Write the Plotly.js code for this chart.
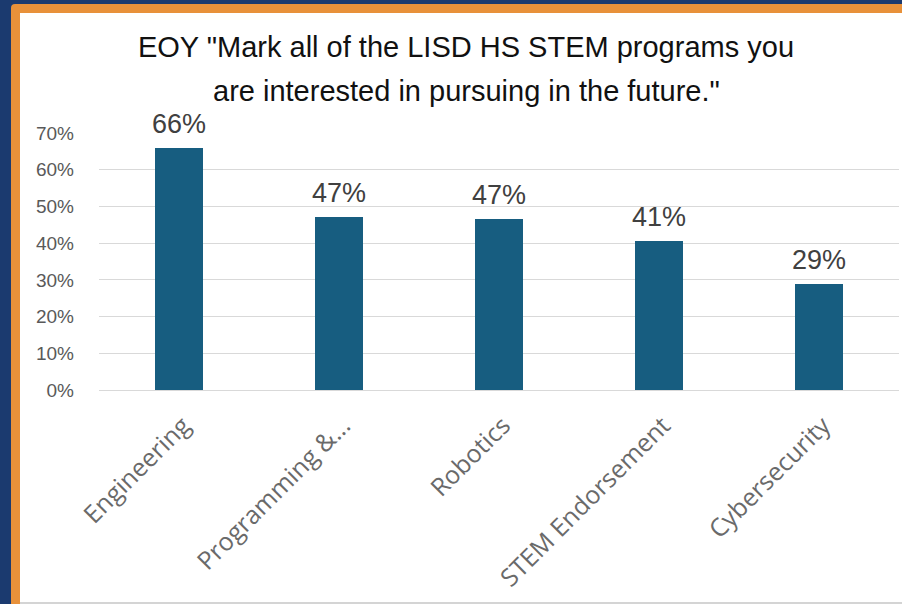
<!DOCTYPE html>
<html>
<head>
<meta charset="utf-8">
<script src="https://cdn.plot.ly/plotly-3.0.1.min.js"></script>
<style>
  html, body { margin: 0; padding: 0; width: 902px; height: 604px; overflow: hidden; background: #1b3a6f; }
  #frame { position: absolute; left: 11px; top: 4px; width: 920px; height: 640px; background: #e8913a; border-top-left-radius: 4px; }
  #inner { position: absolute; left: 20px; top: 13px; width: 900px; height: 589px; background: #ffffff; }
  #bottomline { position: absolute; left: 20px; top: 602px; width: 900px; height: 2px; background: #d4d4d4; }
  #chart { position: absolute; left: 0; top: 0; width: 902px; height: 604px; }
</style>
</head>
<body>
<div id="frame"></div>
<div id="inner"></div>
<div id="bottomline"></div>
<div id="chart"></div>
<script>
const titleLine1 = 'EOY "Mark all of the LISD HS STEM programs you';
const titleLine2 = 'are interested in pursuing in the future."';
const categories = ['Engineering', 'Programming &...', 'Robotics', 'STEM Endorsement', 'Cybersecurity'];
const values = [0.660, 0.471, 0.466, 0.407, 0.288];
const yTickVals = [0, 0.1, 0.2, 0.3, 0.4, 0.5, 0.6, 0.7];
const yTickText = ['0%', '10%', '20%', '30%', '40%', '50%', '60%', '70%'];

const barTrace = {
  type: 'bar',
  x: categories,
  y: values,
  marker: { color: '#175d80' },
  width: 0.306,
  hoverinfo: 'skip',
  cliponaxis: false
};

const valueLabels = categories.map((c, i) => ({
  x: c,
  y: values[i],
  xref: 'x',
  yref: 'y',
  text: Math.round(values[i] * 100) + '%',
  showarrow: false,
  xanchor: 'center',
  yanchor: 'bottom',
  yshift: 7,
  font: { family: 'Liberation Sans, Arial, sans-serif', size: 27, color: '#404040' }
}));

const layout = {
  width: 902,
  height: 604,
  margin: { l: 99, r: 3, t: 133, b: 214, pad: 0 },
  paper_bgcolor: 'rgba(0,0,0,0)',
  plot_bgcolor: 'rgba(0,0,0,0)',
  showlegend: false,
  bargap: 0,
  title: {
    text: titleLine1,
    x: 466 / 902,
    xanchor: 'center',
    xref: 'container',
    y: 1 - 47 / 604,
    yanchor: 'middle',
    yref: 'container',
    font: { family: 'Liberation Sans, Arial, sans-serif', size: 29, color: '#111111' }
  },
  xaxis: {
    type: 'category',
    tickangle: -45,
    ticks: '',
    showline: false,
    showgrid: false,
    zeroline: false,
    ticklabelstandoff: 15,
    ticklabelshift: 4,
    tickfont: { family: 'Open Sans, sans-serif', size: 25, color: '#6a6a6a' },
    fixedrange: true
  },
  yaxis: {
    range: [0, 0.7],
    tickvals: yTickVals,
    ticktext: yTickText,
    ticks: '',
    showline: false,
    showgrid: true,
    gridcolor: '#d9d9d9',
    gridwidth: 1,
    zeroline: true,
    zerolinecolor: '#d9d9d9',
    zerolinewidth: 1,
    ticklabelstandoff: 24,
    tickfont: { family: 'Liberation Sans, Arial, sans-serif', size: 19, color: '#595959' },
    fixedrange: true
  },
  annotations: valueLabels.concat([{
    text: titleLine2,
    xref: 'paper',
    yref: 'paper',
    x: (466 - 99) / 800,
    y: (390 - 91) / 257,
    xanchor: 'center',
    yanchor: 'middle',
    showarrow: false,
    font: { family: 'Liberation Sans, Arial, sans-serif', size: 29, color: '#111111' }
  }])
};

Plotly.newPlot('chart', [barTrace], layout, { displayModeBar: false, staticPlot: true });
</script>
</body>
</html>
